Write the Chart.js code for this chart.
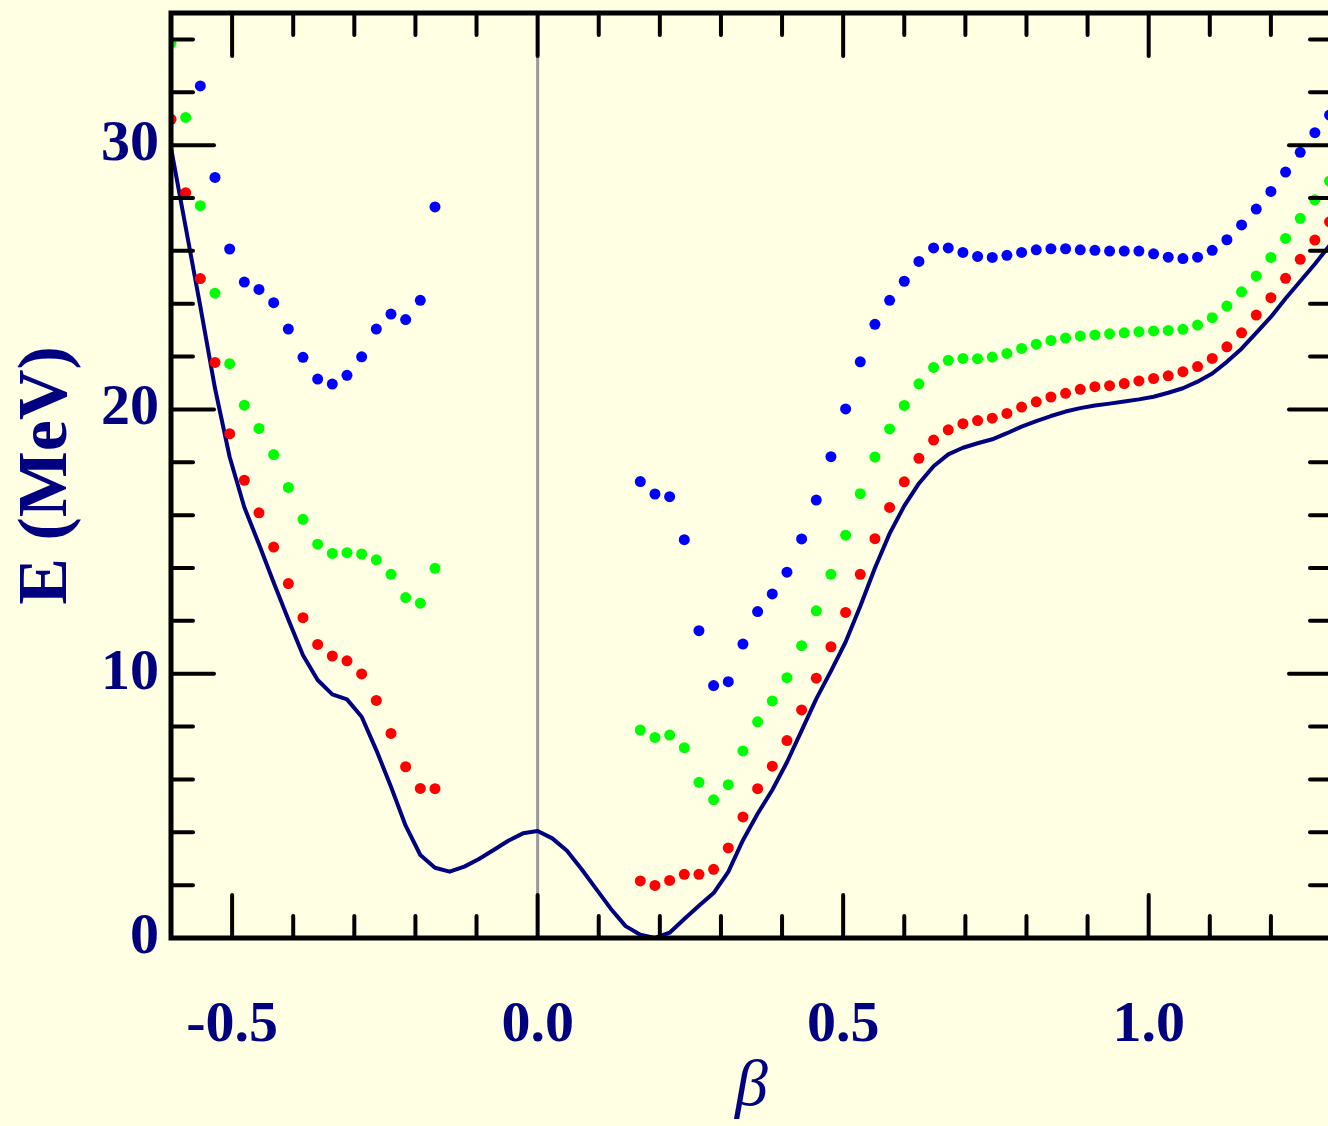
<!DOCTYPE html>
<html><head><meta charset="utf-8">
<script src="https://cdn.jsdelivr.net/npm/chart.js@4.4.1/dist/chart.umd.min.js"></script>
<style>html,body{margin:0;padding:0;overflow:hidden;background:#FFFFE3}#wrap{width:1340px;height:1126px}</style>
</head><body><div id="wrap"><canvas id="c" width="1340" height="1126"></canvas></div>
<script>
const beta = [-0.600,-0.576,-0.552,-0.528,-0.504,-0.480,-0.456,-0.432,-0.408,-0.384,
  -0.360,-0.336,-0.312,-0.288,-0.264,-0.240,-0.216,-0.192,-0.168,-0.144,
  -0.120,-0.096,-0.072,-0.048,-0.024,0.000,0.024,0.048,0.072,0.096,
  0.120,0.144,0.168,0.192,0.216,0.240,0.264,0.288,0.312,0.336,
  0.360,0.384,0.408,0.432,0.456,0.480,0.504,0.528,0.552,0.576,
  0.600,0.624,0.648,0.672,0.696,0.720,0.744,0.768,0.792,0.816,
  0.840,0.864,0.888,0.912,0.936,0.960,0.984,1.008,1.032,1.056,
  1.080,1.104,1.128,1.152,1.176,1.200,1.224,1.248,1.272,1.296];

const groundE = [29.9,26.9,23.9,20.8,18.2,16.3,14.9,13.45,12.05,10.7,
  9.76,9.22,9.03,8.37,7.11,5.72,4.25,3.14,2.66,2.51,
  2.70,2.99,3.33,3.68,3.96,4.05,3.77,3.30,2.60,1.85,
  1.10,0.45,0.12,0.00,0.20,0.72,1.22,1.70,2.50,3.70,
  4.70,5.60,6.65,7.85,9.05,10.10,11.20,12.55,14.00,15.30,
  16.35,17.20,17.85,18.30,18.55,18.72,18.87,19.10,19.35,19.56,
  19.75,19.92,20.05,20.15,20.22,20.30,20.38,20.48,20.63,20.80,
  21.05,21.36,21.80,22.30,22.90,23.50,24.20,24.85,25.50,26.20];

const redE = [30.98,28.2,24.95,21.78,19.08,17.32,16.09,14.79,13.41,12.12,
  11.11,10.67,10.49,9.99,8.99,7.74,6.48,5.66,5.65,null,
  null,null,null,null,null,null,null,null,null,null,
  null,null,2.16,1.99,2.18,2.41,2.41,2.60,3.41,4.58,
  5.65,6.50,7.47,8.63,9.83,11.02,12.32,13.76,15.11,16.29,
  17.26,18.15,18.84,19.23,19.46,19.58,19.67,19.85,20.09,20.29,
  20.47,20.61,20.76,20.86,20.90,20.98,21.08,21.17,21.27,21.43,
  21.62,21.93,22.37,22.90,23.57,24.23,24.96,25.68,26.41,27.10];

const greenE = [33.86,31.05,27.71,24.40,21.73,20.16,19.28,18.29,17.05,15.84,
  14.90,14.55,14.58,14.53,14.31,13.76,12.88,12.67,13.99,null,
  null,null,null,null,null,null,null,null,null,null,
  null,null,7.87,7.59,7.68,7.20,5.89,5.23,5.80,7.08,
  8.18,8.97,9.85,11.06,12.38,13.76,15.24,16.81,18.20,19.26,
  20.15,20.97,21.59,21.86,21.93,21.92,21.98,22.12,22.31,22.47,
  22.61,22.70,22.78,22.82,22.86,22.90,22.94,22.97,22.99,23.03,
  23.19,23.47,23.91,24.45,25.05,25.75,26.47,27.23,27.93,28.64];

const blueE = [null,null,32.24,28.78,26.07,24.82,24.54,24.04,23.04,21.97,
  21.15,20.96,21.29,21.99,23.04,23.61,23.40,24.13,27.66,null,
  null,null,null,null,null,null,null,null,null,null,
  null,null,17.27,16.80,16.70,15.07,11.63,9.55,9.70,11.12,
  12.35,13.02,13.84,15.10,16.57,18.21,20.02,21.80,23.22,24.13,
  24.85,25.60,26.11,26.11,25.94,25.79,25.75,25.83,25.94,26.04,
  26.08,26.08,26.04,26.02,25.99,25.99,25.99,25.89,25.76,25.71,
  25.76,26.02,26.42,26.98,27.58,28.25,28.98,29.73,30.47,31.14];

const xMajorTicks = [-0.5, 0.0, 0.5, 1.0];
const xMinorTicks = [-0.6,-0.4,-0.3,-0.2,-0.1,0.1,0.2,0.3,0.4,0.6,0.7,0.8,0.9,1.1,1.2,1.3];
const yMajorTicks = [0, 10, 20, 30];
const yMinorTicks = [2,4,6,8,12,14,16,18,22,24,26,28,32,34];
const xRange = [-0.6, 1.3];
const yRange = [0, 35];

const BG = '#FFFFE3';
const NAVY = '#000080';

function toPoints(ys){ return beta.map((b,i)=>({x:b, y:ys[i]})); }

const framePlugin = {
  id: 'frame',
  beforeDraw(chart){
    const {ctx, width, height} = chart;
    ctx.save(); ctx.fillStyle = BG; ctx.fillRect(0,0,width,height); ctx.restore();
  },
  beforeDatasetsDraw(chart){
    const {ctx, chartArea:a, scales:{x}} = chart;
    const p = x.getPixelForValue(0);
    ctx.save(); ctx.strokeStyle = '#999999'; ctx.lineWidth = 3;
    ctx.beginPath(); ctx.moveTo(p, a.top); ctx.lineTo(p, a.bottom); ctx.stroke(); ctx.restore();
  },
  afterDatasetsDraw(chart){
    const {ctx, chartArea:a, scales:{x, y}} = chart;
    ctx.save();
    ctx.strokeStyle = '#000'; ctx.lineCap = 'round'; ctx.lineWidth = 4;
    const seg = (x1,y1,x2,y2)=>{ ctx.beginPath(); ctx.moveTo(x1,y1); ctx.lineTo(x2,y2); ctx.stroke(); };
    const xt = (vals, L)=>vals.forEach(v=>{ const p = x.getPixelForValue(v); seg(p,a.bottom,p,a.bottom-L); seg(p,a.top,p,a.top+L); });
    const yt = (vals, L)=>vals.forEach(v=>{ const p = y.getPixelForValue(v); seg(a.left,p,a.left+L,p); seg(a.right,p,a.right-L,p); });
    xt(xMinorTicks, 22); xt(xMajorTicks, 43);
    yt(yMinorTicks, 22); yt(yMajorTicks, 43);
    ctx.lineCap = 'square'; ctx.lineWidth = 5;
    ctx.strokeRect(a.left, a.top, a.right - a.left, a.bottom - a.top);
    ctx.restore();
  }
};

const dot = (data, color, order) => ({
  data: toPoints(data), showLine: false, pointRadius: 5.5, pointHoverRadius: 5.5,
  pointBackgroundColor: color, pointBorderWidth: 0, borderColor: color, backgroundColor: color,
  order: order, clip: 0
});

new Chart(document.getElementById('c'), {
  type: 'scatter',
  data: { datasets: [
    dot(redE, '#FF0000', 1),
    dot(greenE, '#00FF00', 2),
    dot(blueE, '#0000FF', 3),
    { data: toPoints(groundE), showLine: true, pointRadius: 0, borderColor: NAVY, borderWidth: 4,
      tension: 0, order: 4, clip: 0, borderJoinStyle: 'round' }
  ]},
  options: {
    responsive: false, animation: false, devicePixelRatio: 1,
    layout: { padding: { left: 0, top: 13, right: 8, bottom: 0 } },
    plugins: { legend: { display: false }, tooltip: { enabled: false } },
    scales: {
      x: {
        type: 'linear', min: xRange[0], max: xRange[1],
        grid: { display: false, drawTicks: false }, border: { display: false },
        afterBuildTicks: s => { s.ticks = xMajorTicks.map(v => ({value: v})); },
        afterFit: s => { s.height = 188; s.paddingLeft = 0; s.paddingRight = 0; },
        ticks: { autoSkip: false, maxRotation: 0, padding: 53, color: NAVY,
          font: { family: 'Liberation Serif', size: 58, weight: 'bold' },
          callback: v => Number(v).toFixed(1) },
        title: { display: true, text: 'β', color: NAVY, padding: { top: 0, bottom: -1 },
          font: { family: 'Liberation Serif', size: 66, style: 'italic' } }
      },
      y: {
        type: 'linear', min: yRange[0], max: yRange[1],
        grid: { display: false, drawTicks: false }, border: { display: false },
        afterBuildTicks: s => { s.ticks = yMajorTicks.map(v => ({value: v})); },
        afterFit: s => { s.width = 171; s.paddingTop = 0; s.paddingBottom = 0; },
        ticks: { autoSkip: false, padding: 12, color: NAVY,
          font: { family: 'Liberation Serif', size: 58, weight: 'bold' },
          callback: v => String(v) },
        title: { display: true, text: 'E (MeV)', color: NAVY, padding: { top: 6, bottom: 0 },
          font: { family: 'Liberation Serif', size: 70, weight: 'bold' } }
      }
    }
  },
  plugins: [framePlugin]
});
</script></body></html>
